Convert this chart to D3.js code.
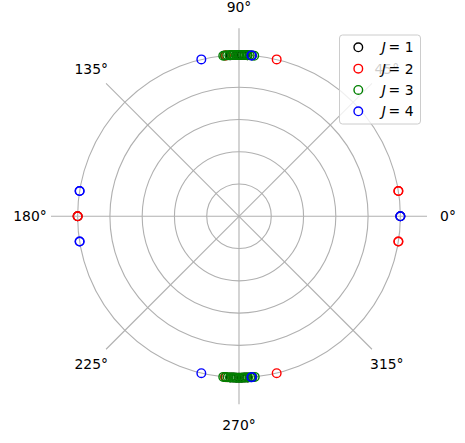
<!DOCTYPE html>
<html>
<head>
<meta charset="utf-8">
<script src="https://cdn.jsdelivr.net/npm/d3@7"></script>
<style>
body { margin: 0; background: #fff; }
text { font-family: "DejaVu Sans", sans-serif; font-size: 13.9px; fill: #000; }
</style>
</head>
<body>
<svg id="polar"></svg>
<script>
// angles in degrees, all points sit at r = 1 (repeated angles = overlapping states)
var seriesNames = ["1", "2", "3", "4"]
var seriesColors = ["black", "red", "green", "blue"]

var j1Angles = [0, 180, 87, 88, 89, 90, 91, 92, 93, 267, 268, 269, 270, 271, 272, 273]
var j2Angles = [9, 9, 351, 351, 180, 180, 76.5, 283.5, 95, 94.6, 265, 265.4]
var j3Angles = [84.6, 85.4, 86.2, 87.0, 87.8, 88.6, 89.4, 90.2, 91.0, 91.8, 92.6, 93.4, 94.2, 95.0, 95.6,
                264.4, 265.2, 266.0, 266.8, 267.6, 268.4, 269.2, 270.0, 270.8, 271.6, 272.4, 273.2, 274.0, 274.8, 275.6]
var j4Angles = [0, 0, 171, 171, 189, 189, 103.5, 256.5, 85.4, 85.6, 274.6, 274.4]
var radii = [1, 1, 1, 1]

var rTicks = [0.2, 0.4, 0.6, 0.8, 1.0]
var thetaTicks = [0, 45, 90, 135, 180, 225, 270, 315]

var allSeries = [j1Angles, j2Angles, j3Angles, j4Angles]

var screen = {width: 465, height: 443}
var center = {x: 239, y: 216.3}

var svg = d3.select("#polar")
    .attr("width", screen.width)
    .attr("height", screen.height)

var rScale = d3.scaleLinear()
    .domain([0, 1.165])
    .range([0, 188])

var toXY = function(deg, r)
{
    var a = deg * Math.PI / 180
    return [center.x + rScale(r) * Math.cos(a), center.y - rScale(r) * Math.sin(a)]
}

var grid = svg.append("g")

grid.selectAll("circle")
    .data(rTicks)
    .enter()
    .append("circle")
    .attr("cx", center.x)
    .attr("cy", center.y)
    .attr("r", function(d) { return rScale(d) })
    .attr("fill", "none")
    .attr("stroke", "#b0b0b0")
    .attr("stroke-width", 1.1)

grid.selectAll("line")
    .data(thetaTicks)
    .enter()
    .append("line")
    .attr("x1", center.x)
    .attr("y1", center.y)
    .attr("x2", function(d) { return toXY(d, 1.165)[0] })
    .attr("y2", function(d) { return toXY(d, 1.165)[1] })
    .attr("stroke", "#b0b0b0")
    .attr("stroke-width", 1.1)

// theta tick labels
var labelR = 1.165 * 209 / 188
svg.append("g")
    .selectAll("text")
    .data(thetaTicks)
    .enter()
    .append("text")
    .attr("x", function(d) { return toXY(d, labelR)[0] })
    .attr("y", function(d) { return toXY(d, labelR)[1] })
    .attr("text-anchor", "middle")
    .attr("dominant-baseline", "central")
    .text(function(d) { return d + "°" })

// points
var pts = svg.append("g")
allSeries.forEach(function(angles, i)
{
    pts.append("g")
        .selectAll("circle")
        .data(angles)
        .enter()
        .append("circle")
        .attr("cx", function(d) { return toXY(d, radii[i])[0] })
        .attr("cy", function(d) { return toXY(d, radii[i])[1] })
        .attr("r", 4.3)
        .attr("fill", "none")
        .attr("stroke", seriesColors[i])
        .attr("stroke-width", 1.4)
})

// legend
var legend = svg.append("g")
legend.append("rect")
    .attr("x", 339.5)
    .attr("y", 35)
    .attr("width", 81)
    .attr("height", 89)
    .attr("rx", 3)
    .attr("fill", "white")
    .attr("fill-opacity", 0.8)
    .attr("stroke", "#cccccc")
    .attr("stroke-width", 1)

var rowY = d3.scaleLinear().domain([0, 3]).range([47.3, 111.3])

seriesNames.forEach(function(name, i)
{
    legend.append("circle")
        .attr("cx", 358.3)
        .attr("cy", rowY(i))
        .attr("r", 4.3)
        .attr("fill", "none")
        .attr("stroke", seriesColors[i])
        .attr("stroke-width", 1.4)
    var t = legend.append("text")
        .attr("x", 413.5)
        .attr("y", rowY(i))
        .attr("text-anchor", "end")
        .attr("dominant-baseline", "central")
    t.append("tspan").attr("font-style", "italic").text("J")
    t.append("tspan").text("\u2009= " + name)
})
</script>
</body>
</html>
